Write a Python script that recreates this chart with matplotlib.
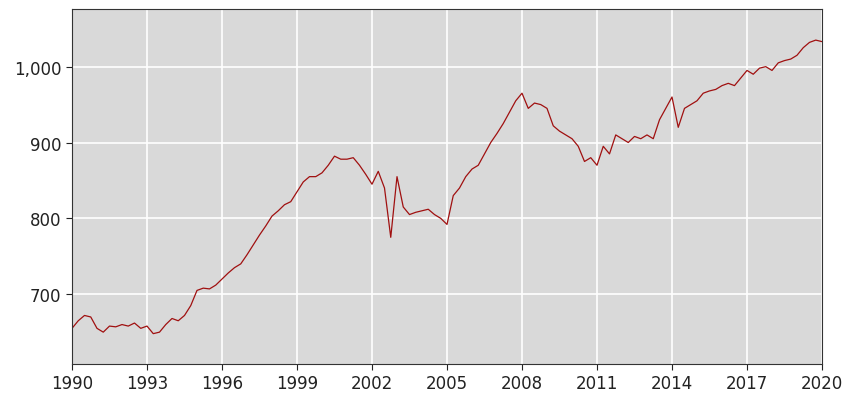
import matplotlib
matplotlib.use("Agg")
import matplotlib.pyplot as plt
import matplotlib.ticker as mt

start_year = 1990
values = [
 655,665,672,670, 655,650,658,657, 660,658,662,655, 658,648,650,660,
 668,665,672,685, 705,708,707,712, 720,728,735,740, 752,765,778,790,
 803,810,818,822, 835,848,855,855, 860,870,882,878, 878,880,870,858,
 845,862,840,775, 855,815,805,808, 810,812,805,800, 792,830,840,855,
 865,870,885,900, 912,925,940,955, 965,945,952,950, 945,922,915,910,
 905,895,875,880, 870,895,885,910, 905,900,908,905, 910,905,930,945,
 960,920,945,950, 955,965,968,970, 975,978,975,985, 995,990,998,1000,
 995,1005,1008,1010, 1015,1025,1032,1035, 1033]
xs = [start_year + i*0.25 for i in range(len(values))]
xticks = list(range(1990, 2021, 3))
yticks = [700, 800, 900, 1000]

fig = plt.figure(figsize=(8.49, 4.06), dpi=100)
ax = fig.add_axes([72/849, 41/406, 750/849, 355/406])
ax.set_facecolor("#d9d9d9")
ax.plot(xs, values, color="#a01010", lw=0.9)
ax.set_xlim(1990, 2020)
ax.set_ylim(608, 1076)
ax.set_xticks(xticks)
ax.set_yticks(yticks)
ax.yaxis.set_major_formatter(mt.FuncFormatter(lambda v, p: f"{int(v):,}"))
ax.grid(color="white", lw=1.2)
ax.set_axisbelow(True)
for s in ax.spines.values():
    s.set_color("#333333")
ax.tick_params(labelsize=12, colors="#222222", length=4)
fig.savefig("out.png")
